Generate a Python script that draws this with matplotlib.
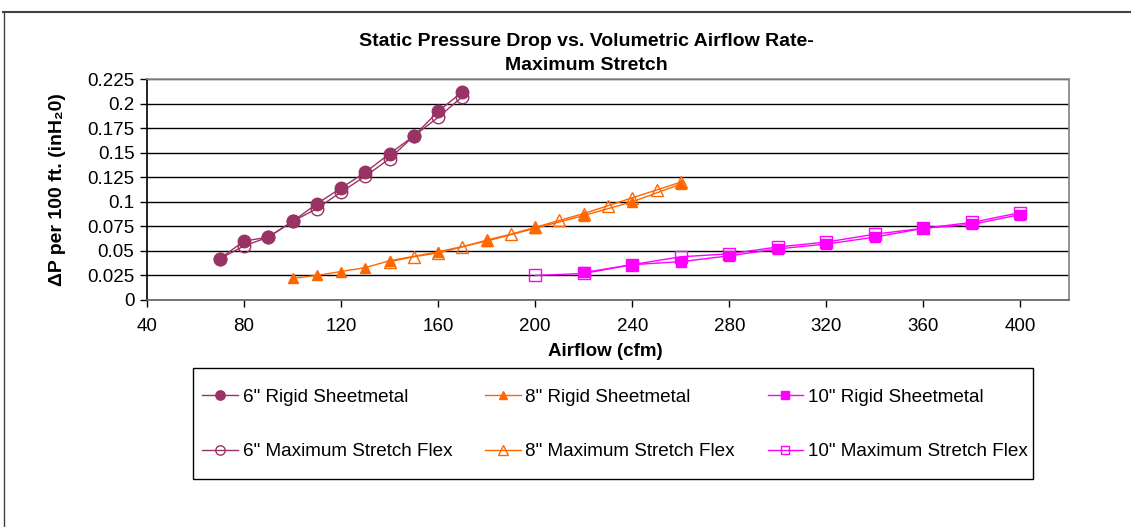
import numpy as np
import matplotlib.pyplot as plt
from matplotlib.lines import Line2D
from matplotlib.patches import Rectangle

plt.rcParams['font.family'] = ['Liberation Sans', 'DejaVu Sans']

# 6" duct
x6 = [70, 80, 90, 100, 110, 120, 130, 140, 150, 160, 170]
rigid6 = [0.042, 0.060, 0.064, 0.080, 0.098, 0.114, 0.130, 0.149, 0.167, 0.192, 0.212]
flex6 = [0.042, 0.055, 0.064, 0.080, 0.093, 0.110, 0.126, 0.144, 0.167, 0.186, 0.207]

# 8" duct
x8_rigid = [100, 110, 120, 130, 140, 160, 180, 200, 220, 240, 260]
rigid8 = [0.022, 0.025, 0.029, 0.033, 0.040, 0.049, 0.060, 0.073, 0.086, 0.100, 0.118]
x8_flex = [140, 150, 160, 170, 180, 190, 200, 210, 220, 230, 240, 250, 260]
flex8 = [0.039, 0.044, 0.048, 0.054, 0.061, 0.067, 0.074, 0.081, 0.088, 0.096, 0.104, 0.112, 0.120]

# 10" duct
x10_rigid = [220, 240, 260, 280, 300, 320, 340, 360, 380, 400]
rigid10 = [0.028, 0.036, 0.039, 0.045, 0.052, 0.057, 0.064, 0.073, 0.077, 0.087]
x10_flex = [200, 220, 240, 260, 280, 300, 320, 340, 360, 380, 400]
flex10 = [0.025, 0.027, 0.036, 0.044, 0.047, 0.054, 0.059, 0.067, 0.073, 0.079, 0.089]

xticks = [40, 80, 120, 160, 200, 240, 280, 320, 360, 400]
yticks = [0, 0.025, 0.05, 0.075, 0.1, 0.125, 0.15, 0.175, 0.2, 0.225]
ytick_labels = ['0', '0.025', '0.05', '0.075', '0.1', '0.125', '0.15', '0.175', '0.2', '0.225']

c6, c8, c10 = '#993366', '#FF6600', '#FF00FF'

W, H = 1131, 527
fig = plt.figure(figsize=(W / 100, H / 100), dpi=100)
ax = fig.add_axes([147 / W, 1 - 300 / H, 922 / W, 221 / H])

ax.set_xlim(40, 420)
ax.set_ylim(0, 0.225)
ax.set_xticks(xticks)
ax.set_yticks(yticks)
ax.set_yticklabels(ytick_labels)
ax.tick_params(axis='both', direction='out', length=5, width=1, labelsize=13.5, colors='black')
ax.tick_params(axis='x', pad=8)
ax.tick_params(axis='y', pad=4)
ax.yaxis.grid(True, color='black', lw=1)
ax.set_axisbelow(True)
ax.spines['left'].set_color('black')
ax.spines['bottom'].set_color('#606060')
ax.spines['top'].set_color('#909090')
ax.spines['right'].set_color('#808080')
for s in ax.spines.values():
    s.set_linewidth(1.2)

h6r, = ax.plot(x6, rigid6, '-o', color=c6, lw=1, ms=9, mfc=c6, mec=c6,
               label='6" Rigid Sheetmetal')
h6f, = ax.plot(x6, flex6, '-o', color=c6, lw=1, ms=9, mfc='none', mec=c6,
               label='6" Maximum Stretch Flex')
h8r, = ax.plot(x8_rigid, rigid8, '-^', color=c8, lw=1, ms=7.5, mfc=c8, mec=c8,
               label='8" Rigid Sheetmetal')
h8f, = ax.plot(x8_flex, flex8, '-^', color=c8, lw=1, ms=9, mfc='none', mec=c8,
               label='8" Maximum Stretch Flex')
h10r, = ax.plot(x10_rigid, rigid10, '-s', color=c10, lw=1, ms=7.5, mfc=c10, mec=c10,
                label='10" Rigid Sheetmetal')
h10f, = ax.plot(x10_flex, flex10, '-s', color=c10, lw=1, ms=8, mfc='none', mec=c10,
                label='10" Maximum Stretch Flex')

fig.text(586 / W, 1 - 41 / H, 'Static Pressure Drop vs. Volumetric Airflow Rate-',
         ha='center', va='center', fontsize=14, fontweight='bold')
fig.text(586 / W, 1 - 66 / H, 'Maximum Stretch',
         ha='center', va='center', fontsize=14, fontweight='bold')
fig.text(605 / W, 1 - 352 / H, 'Airflow (cfm)', ha='center', va='center',
         fontsize=13.5, fontweight='bold')
fig.text(58 / W, 1 - 190 / H, '\u0394P per 100 ft. (inH\u20820)', ha='center', va='center',
         rotation=90, fontsize=14, fontweight='bold')

handles = [h6r, h6f, h8r, h8f, h10r, h10f]
leg = fig.legend(handles, [h.get_label() for h in handles],
                 ncol=3, loc='center', mode='expand',
                 bbox_to_anchor=(202 / W, 1 - 424.5 / H, 826 / W, 0),
                 fontsize=13.6, frameon=False, borderpad=0, borderaxespad=0,
                 labelspacing=1.95, handlelength=1.9, handletextpad=0.25,
                 markerscale=0.75)

# legend box
fig.add_artist(Rectangle((193 / W, 1 - 479 / H), 840 / W, 111 / H, transform=fig.transFigure,
                         fill=False, edgecolor='black', lw=1))

# outer chart frame (runs off the page on the right and bottom)
fig.add_artist(Line2D([3 / W, 1.0], [1 - 12 / H] * 2, transform=fig.transFigure,
                      color='#404040', lw=1.5))
fig.add_artist(Line2D([3.5 / W] * 2, [0, 1 - 12 / H], transform=fig.transFigure,
                      color='#404040', lw=1))

fig.savefig('out.png', dpi=100)
